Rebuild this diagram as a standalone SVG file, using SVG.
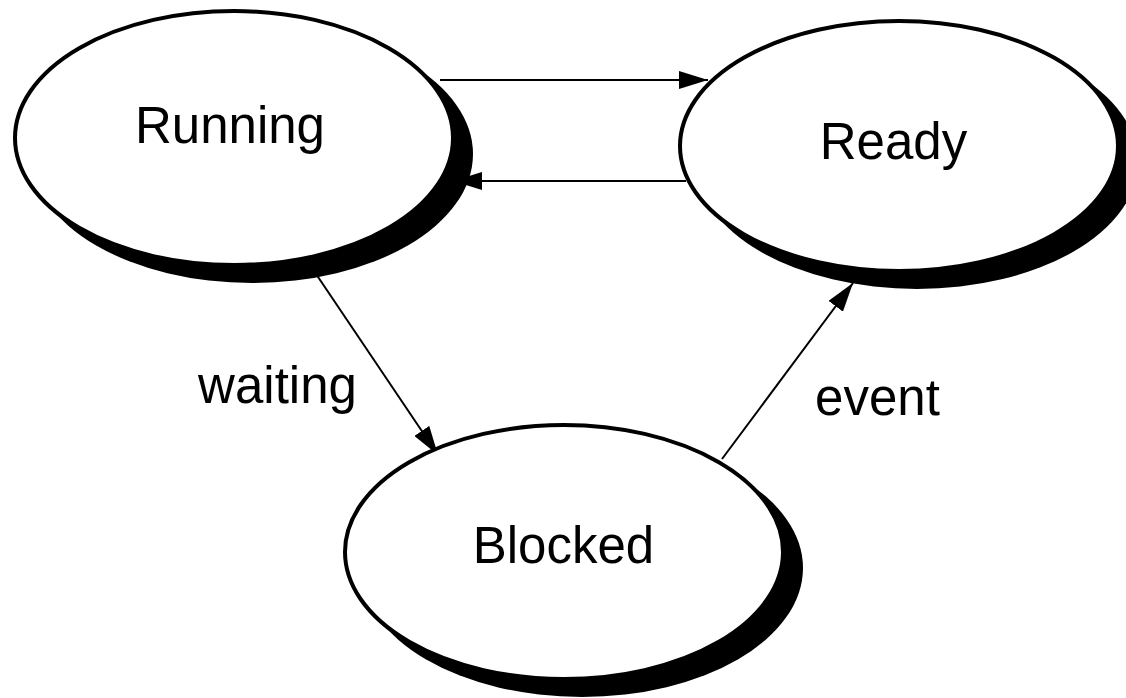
<svg xmlns="http://www.w3.org/2000/svg" width="1126" height="698" viewBox="0 0 1126 698">
<style>
.shadow{fill:#000;stroke:none}
.node{fill:#fff;stroke:#000;stroke-width:4}
.lbl{font-family:"Liberation Sans",Arial,sans-serif;font-size:51px;fill:#000;text-anchor:middle}
.edge{stroke:#000;stroke-width:2;fill:none;marker-end:url(#arr)}
</style>
<defs>
<marker id="arr" markerUnits="userSpaceOnUse" markerWidth="30" markerHeight="18" refX="29" refY="9" orient="auto">
<path d="M0,0 L29,9 L0,18 z" fill="#000"/>
</marker>
</defs>
<rect width="1126" height="698" fill="#fff"/>
<g id="connectors">
<line class="edge" x1="440" y1="80" x2="708" y2="80"/>
<line class="edge" x1="686" y1="181" x2="453" y2="181"/>
<line class="edge" x1="312" y1="268" x2="438" y2="455"/>
<line class="edge" x1="722" y1="459" x2="853" y2="283"/>
<text class="lbl" x="277.5" y="403">waiting</text>
<text class="lbl" x="877.5" y="415">event</text>
</g>
<g id="running">
<ellipse class="shadow" cx="252" cy="154" rx="221" ry="129"/>
<ellipse class="node" cx="234" cy="138" rx="219" ry="127"/>
<text class="lbl" x="230" y="143">Running</text>
</g>
<g id="ready">
<ellipse class="shadow" cx="917" cy="162" rx="221" ry="127"/>
<ellipse class="node" cx="899" cy="146" rx="219" ry="125"/>
<text class="lbl" x="893.5" y="159">Ready</text>
</g>
<g id="blocked">
<ellipse class="shadow" cx="582" cy="568" rx="221" ry="129"/>
<ellipse class="node" cx="564" cy="552" rx="219" ry="127"/>
<text class="lbl" x="563.5" y="563">Blocked</text>
</g>
</svg>
